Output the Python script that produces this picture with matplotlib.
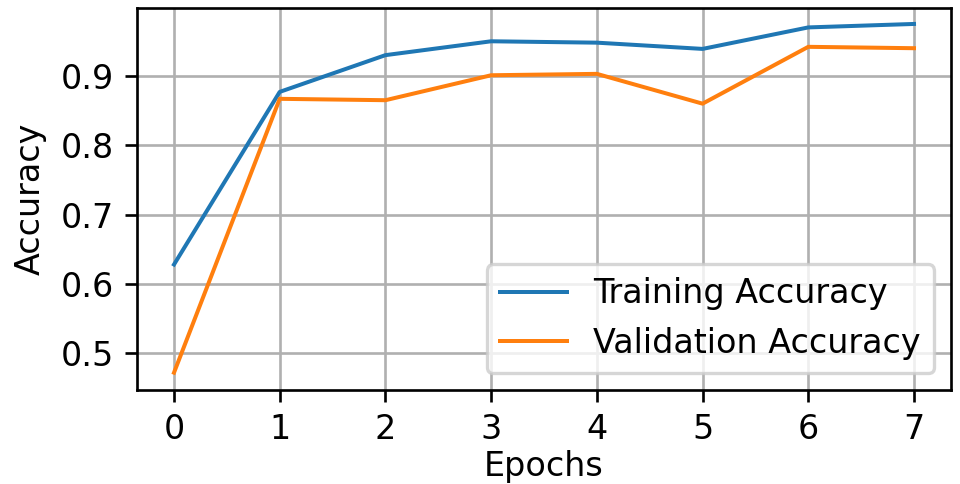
import matplotlib
matplotlib.use("Agg")
import matplotlib.pyplot as plt
from matplotlib.ticker import MultipleLocator

epochs = [0, 1, 2, 3, 4, 5, 6, 7]
train_acc = [0.628, 0.877, 0.930, 0.950, 0.948, 0.939, 0.970, 0.975]
val_acc = [0.472, 0.867, 0.865, 0.901, 0.903, 0.860, 0.942, 0.940]

fig = plt.figure(figsize=(4, 484 / 240), dpi=240)
ax = fig.add_axes([137 / 960, 1 - 390 / 484, (951 - 137) / 960, (390 - 8) / 484])
ax.plot(epochs, train_acc, label="Training Accuracy", lw=1.2)
ax.plot(epochs, val_acc, label="Validation Accuracy", lw=1.2)
ax.set_ylim(0.447, 0.998)
ax.yaxis.set_major_locator(MultipleLocator(0.1))
ax.set_xlabel("Epochs", labelpad=1)
ax.set_ylabel("Accuracy")
ax.grid(True)
ax.legend(loc="lower right")
fig.savefig("out.png", dpi=240)
